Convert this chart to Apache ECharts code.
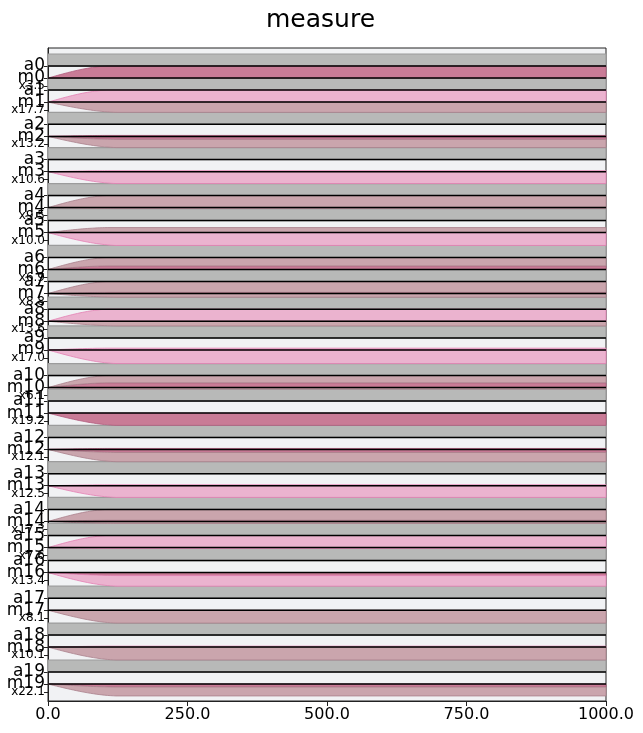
<!DOCTYPE html>
<html><head><meta charset="utf-8">
<script src="https://cdn.jsdelivr.net/npm/echarts@6/dist/echarts.min.js"></script>
<style>html,body{margin:0;padding:0;background:#fff}#c{width:643px;height:733px}</style>
</head><body><div id="c"></div>
<script>
// ---- data ----
const aLabels = ['a0','a1','a2','a3','a4','a5','a6','a7','a8','a9','a10','a11','a12','a13','a14','a15','a16','a17','a18','a19'];
const mLabels = ['m0','m1','m2','m3','m4','m5','m6','m7','m8','m9','m10','m11','m12','m13','m14','m15','m16','m17','m18','m19'];
const ratioLabels = ['x3.5','x17.7','x13.2','x10.6','x9.5','x10.0','x6.9','x8.8','x13.6','x17.0','x6.1','x19.2','x12.1','x12.5','x17.3','x7.6','x13.4','x8.1','x10.1','x22.1'];
// stacked layers growing upward from each m line: [kind, height in row units]
const upperLayers = [
  [['D',1]], [['L',1]], [['D',0.08]], [['L',0.08]], [['M',1]],
  [['M',0.42]], [['D',0.3],['M',0.7]], [['D',0.1],['M',0.9]], [['L',1]], [['L',0.15]],
  [['D',0.4],['M',0.6]], [], [['D',0.08]], [['L',0.08]], [['D',0.1],['M',0.9]],
  [['L',1]], [], [], [['L',0.08]], []
];
// stacked layers growing downward from each m line
const lowerLayers = [
  [], [['M',0.85]], [['D',0.25],['M',0.68]], [['L',0.99]], [['M',0.08]],
  [['L',1.07]], [], [['M',0.3]], [['M',0.39]], [['L',1.13]],
  [['M',0.12]], [['D',1.02]], [['D',0.25],['M',0.77]], [['L',0.97]], [['M',0.17]],
  [['L',0.08]], [['D',0.25],['L',0.88]], [['M',1.07]], [['M',1.07]], [['D',0.25],['M',0.74]]
];
const xTicks = [0, 250, 500, 750, 1000];
const upperRampEnd = 106;   // x where upward layers reach full height
const lowerRampEnd = 122;   // x where downward layers reach full height

// ---- layout from data ----
const kindColor = {D:'#c97b96', L:'#ebb3cf', M:'#caa5ad'};
const kindEdge  = {D:'#b05a7c', L:'#e37fb2', M:'#a9808c'};
const N = aLabels.length;
const grayTop = [], aPos = [], mPos = [];
let yy = 0.5;
for (let i = 0; i < N; i++) {
  grayTop.push(yy); aPos.push(yy + 1); mPos.push(yy + 2);
  const gap = lowerLayers[i].reduce((s, l) => s + l[1], 0);
  yy = yy + 2 + gap;
}
const yMax = yy + 0.42;

const shapes = [];
for (let i = 0; i < N; i++) {
  let off = 0;
  upperLayers[i].forEach(l => { shapes.push({m: mPos[i], dir: -1, off, h: l[1], kind: l[0], T: upperRampEnd}); off += l[1]; });
  off = 0;
  lowerLayers[i].forEach(l => { shapes.push({m: mPos[i], dir: 1, off, h: l[1], kind: l[0], T: lowerRampEnd}); off += l[1]; });
}
const lines = [];
for (let i = 0; i < N; i++) { lines.push(aPos[i]); lines.push(mPos[i]); }

const tickVals = [], tickText = [];
for (let i = 0; i < N; i++) {
  tickVals.push(aPos[i]); tickText.push('{b|' + aLabels[i] + '}');
  tickVals.push(mPos[i]); tickText.push('{b|' + mLabels[i] + '}');
  tickVals.push(mPos[i] + 0.66); tickText.push('{s|' + ratioLabels[i] + '}');
}
// empty guard labels at both ends so no real label is dropped by min/max overlap handling
const labelVals = [0].concat(tickVals, [yMax]);
const labelText = [''].concat(tickText, ['']);

function ramp(t) { t = Math.min(1, Math.max(0, t)); return 1.4 * t - 0.4 * t * t * t; }

const chart = echarts.init(document.getElementById('c'), null, {renderer: 'canvas'});
const FONT = 'DejaVu Sans';
chart.setOption({
  animation: false,
  backgroundColor: '#fff',
  title: {text: 'measure', left: 261, top: 3, textStyle: {fontFamily: FONT, fontSize: 25, fontWeight: 'normal', color: '#000'}},
  grid: {left: 48, right: 37, top: 48, bottom: 32, show: true, backgroundColor: '#f1f2f4', borderColor: '#222', borderWidth: 1},
  xAxis: {
    type: 'value', min: 0, max: 1000, interval: 250,
    axisLine: {show: true, onZero: false, lineStyle: {color: '#222', width: 1}},
    axisTick: {show: true, length: 5, lineStyle: {color: '#222'}},
    axisLabel: {fontFamily: FONT, fontSize: 16, color: '#000', margin: 6, formatter: v => v.toFixed(1)},
    splitLine: {show: false}
  },
  yAxis: {
    type: 'value', inverse: true, min: 0, max: yMax,
    axisLine: {show: true, onZero: false, lineStyle: {color: '#222', width: 1}},
    axisTick: {show: true, length: 4, customValues: tickVals, lineStyle: {color: '#222'}},
    axisLabel: {
      customValues: labelVals, margin: 3, color: '#000', showMinLabel: true, showMaxLabel: true, hideOverlap: false,
      formatter: function (v) {
        let best = 0, bd = 1e9;
        labelVals.forEach((t, k) => { const d = Math.abs(t - v); if (d < bd) { bd = d; best = k; } });
        return labelText[best];
      },
      rich: {b: {fontFamily: FONT, fontSize: 17, color: '#000'}, s: {fontFamily: FONT, fontSize: 12, color: '#000'}}
    },
    splitLine: {show: false}
  },
  series: [
    {
      type: 'custom', z: 2,
      data: grayTop.map((g, i) => [0, g]),
      renderItem: function (params, api) {
        const i = params.dataIndex;
        const p0 = api.coord([0, grayTop[i]]), p1 = api.coord([1000, aPos[i]]);
        return {type: 'rect', shape: {x: p0[0], y: p0[1], width: p1[0] - p0[0], height: p1[1] - p0[1]},
          style: {fill: '#b8b9b8', stroke: '#9c9c9c', lineWidth: 1.2}};
      }
    },
    {
      type: 'custom', z: 3,
      data: shapes.map(s => [0, s.m]),
      renderItem: function (params, api) {
        const s = shapes[params.dataIndex];
        const xs = [];
        for (let k = 0; k <= 24; k++) xs.push(s.T * k / 24);
        xs.push(1000);
        const top = [], bot = [];
        xs.forEach(x => {
          const f = ramp(x / s.T);
          top.push(api.coord([x, s.m + s.dir * s.off * f]));
          bot.push(api.coord([x, s.m + s.dir * (s.off + s.h) * f]));
        });
        const pts = top.concat(bot.reverse());
        return {type: 'polygon', shape: {points: pts},
          style: {fill: kindColor[s.kind], stroke: kindEdge[s.kind], lineWidth: 0.8}};
      }
    },
    {
      type: 'custom', z: 4,
      data: lines.map(v => [0, v]),
      renderItem: function (params, api) {
        const v = lines[params.dataIndex];
        const p0 = api.coord([0, v]), p1 = api.coord([1000, v]);
        return {type: 'line', shape: {x1: p0[0], y1: p0[1], x2: p1[0], y2: p1[1]}, style: {stroke: '#000', lineWidth: 1.5}};
      }
    }
  ]
});
</script></body></html>
